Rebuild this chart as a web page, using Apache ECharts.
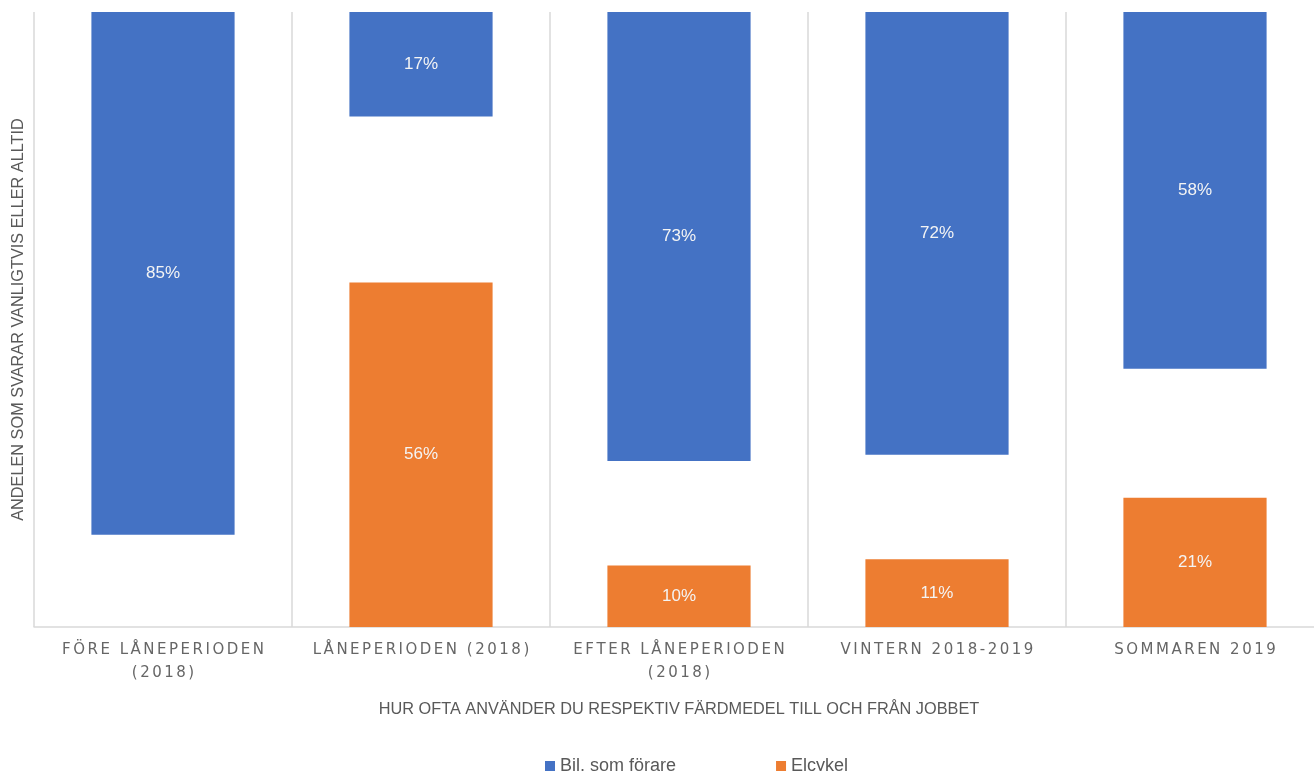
<!DOCTYPE html>
<html>
<head>
<meta charset="utf-8">
<script src="https://cdn.jsdelivr.net/npm/echarts@6/dist/echarts.min.js"></script>
<style>
  html, body { margin: 0; padding: 0; background: #fff; }
  #chart { width: 1314px; height: 771px; }
</style>
</head>
<body>
<div id="chart"></div>
<script>
// kategorier (x-axeln)
const categories = [
  'FÖRE LÅNEPERIODEN\n(2018)',
  'LÅNEPERIODEN (2018)',
  'EFTER LÅNEPERIODEN\n(2018)',
  'VINTERN 2018-2019',
  'SOMMAREN 2019'
];
// andel i procent
const bilValues = [85, 17, 73, 72, 58];
const elcykelValues = [null, 56, 10, 11, 21];

const seriesNames = ['Bil, som förare', 'Elcykel'];
const xName = 'HUR OFTA ANVÄNDER DU RESPEKTIV FÄRDMEDEL TILL OCH FRÅN JOBBET';
const yName = 'ANDELEN SOM SVARAR VANLIGTVIS ELLER ALLTID';

const narrow = '"Liberation Sans Narrow", "Liberation Sans", sans-serif';
const gridColor = '#d9d9d9';

// spärrad text på kategorierna (smalt mellanrum mellan tecknen)
const spaced = s => s.split('\n').map(line => line.split('').join('\u2006')).join('\n');

const chart = echarts.init(document.getElementById('chart'));

const labelStyle = {
  show: true,
  position: 'inside',
  color: '#f4f4f4',
  fontFamily: narrow,
  fontSize: 17,
  formatter: p => p.value + '%'
};

chart.setOption({
  animation: false,
  grid: { left: 34, top: 12, width: 1290, bottom: 144, outerBoundsMode: 'none' },
  legend: {
    data: seriesNames,
    left: 540,
    top: 752,
    itemWidth: 10,
    itemHeight: 10,
    itemGap: 100,
    icon: 'rect',
    textStyle: { color: '#595959', fontFamily: '"Liberation Sans", sans-serif', fontSize: 18 }
  },
  xAxis: {
    type: 'category',
    data: categories,
    name: xName,
    nameLocation: 'middle',
    nameGap: 75,
    nameTextStyle: { color: '#595959', fontFamily: narrow, fontSize: 16.3 },
    axisLine: { lineStyle: { color: gridColor, width: 1.5 } },
    axisTick: { show: false },
    splitLine: { show: true, lineStyle: { color: gridColor, width: 1.5 } },
    axisLabel: {
      color: '#666666',
      fontFamily: '"DejaVu Sans", sans-serif',
      fontSize: 15,
      lineHeight: 23,
      margin: 12,
      interval: 0,
      formatter: spaced
    }
  },
  yAxis: [
    {
      type: 'value', min: 0, max: 100,
      name: yName,
      nameLocation: 'middle',
      nameGap: 7,
      nameTextStyle: { color: '#595959', fontFamily: narrow, fontSize: 16.3 },
      axisLine: { show: false }, axisTick: { show: false },
      axisLabel: { show: false }, splitLine: { show: false }
    },
    {
      type: 'value', min: 0, max: 100, inverse: true,
      axisLine: { show: false }, axisTick: { show: false },
      axisLabel: { show: false }, splitLine: { show: false }
    }
  ],
  series: [
    {
      name: seriesNames[0],
      type: 'bar',
      yAxisIndex: 1,
      data: bilValues,
      barWidth: '55.5%',
      barGap: '-100%',
      itemStyle: { color: '#4472c4' },
      label: labelStyle
    },
    {
      name: seriesNames[1],
      type: 'bar',
      yAxisIndex: 0,
      data: elcykelValues,
      barWidth: '55.5%',
      itemStyle: { color: '#ed7d31' },
      label: labelStyle
    }
  ]
});
</script>
</body>
</html>
